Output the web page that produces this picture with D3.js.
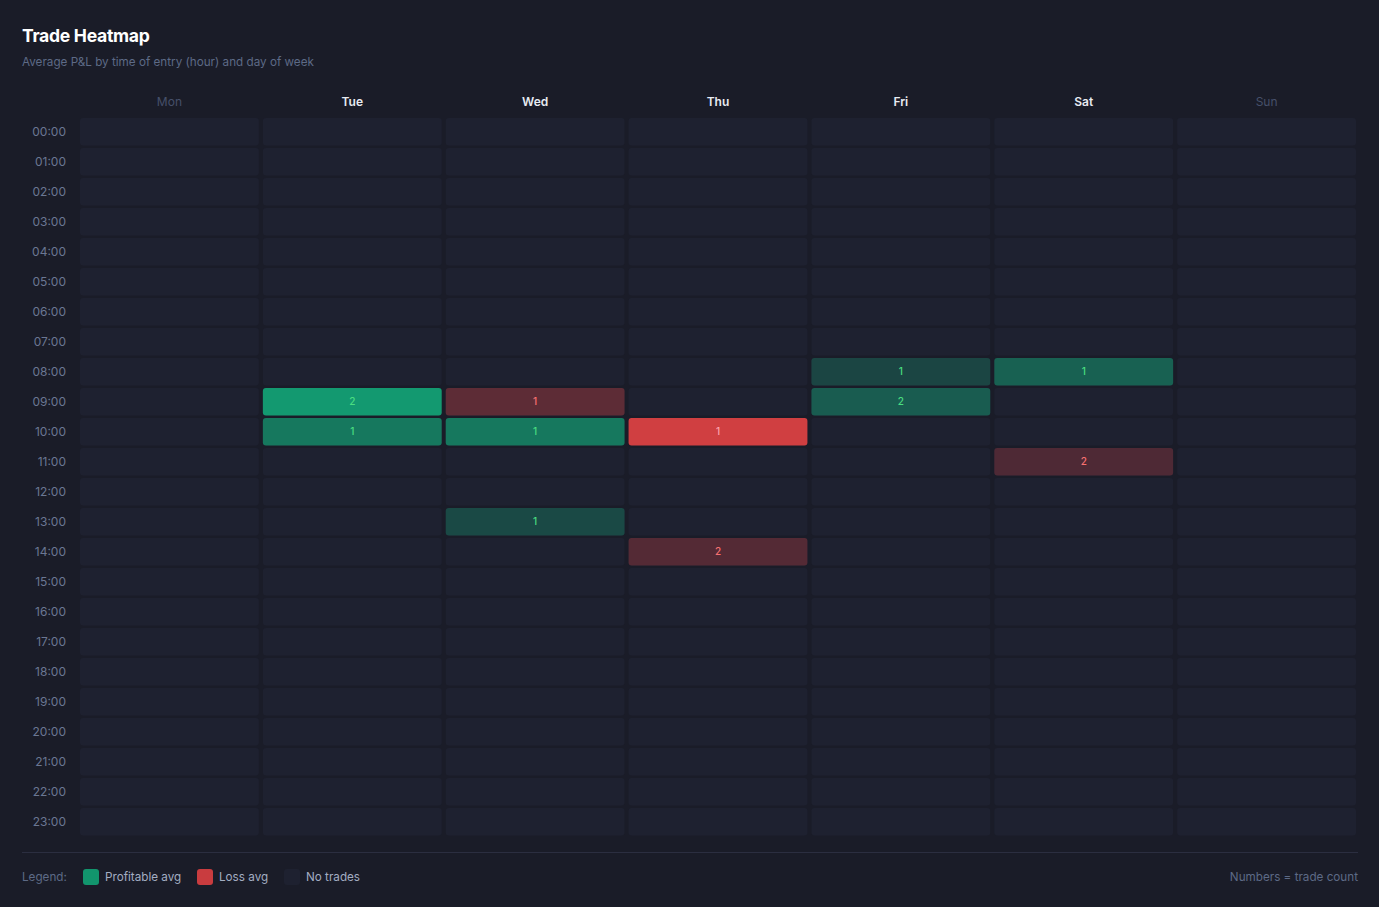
<!DOCTYPE html>
<html>
<head>
<meta charset="utf-8">
<script src="https://cdn.jsdelivr.net/npm/d3@7"></script>
<style>
  body { margin: 0; background: #1a1c28; font-family: Inter, "Noto Sans", sans-serif; }
</style>
</head>
<body>
<div id="container"></div>
<script>
/* CONSTANTS AND GLOBALS */
const width = 1379,
  height = 907,
  margin = {top: 118, bottom: 71.5, left: 80, right: 23};

/* DATA */
const days = ["Mon", "Tue", "Wed", "Thu", "Fri", "Sat", "Sun"];
const hours = d3.range(24).map(h => String(h).padStart(2, "0") + ":00");

// cells with trades: day, hour, trade count, average P&L
const tradeDays   = ["Fri",   "Sat",   "Tue",   "Wed",   "Fri",   "Tue",   "Wed",   "Thu",   "Sat",   "Wed",   "Thu"];
const tradeHours  = ["08:00", "08:00", "09:00", "09:00", "09:00", "10:00", "10:00", "10:00", "11:00", "13:00", "14:00"];
const tradeCounts = [1,       1,       2,       1,       2,       1,       1,       1,       2,       1,       2];
const tradePnl    = [45,      135,     320,     -75,     120,     210,     210,     -350,    -40,     55,      -55];

const legendItems = ["Profitable avg", "Loss avg", "No trades"];

const trades = tradeDays.map((d, i) => ({
  day: d, hour: tradeHours[i], count: tradeCounts[i], pnl: tradePnl[i]
}));

const activeDays = new Set(tradeDays);

/* SVG */
const svg = d3.select("#container")
  .append("svg")
  .attr("width", width)
  .attr("height", height);

// title
svg.append("text")
  .attr("x", 22).attr("y", 42)
  .attr("fill", "#ffffff")
  .attr("font-size", 17.6).attr("font-weight", 700)
  .attr("letter-spacing", -0.3)
  .text("Trade Heatmap");

svg.append("text")
  .attr("x", 22).attr("y", 66)
  .attr("fill", "#5d6a86")
  .attr("font-size", 11.7)
  .text("Average P&L by time of entry (hour) and day of week");

// SCALES
const xScale = d3.scaleBand()
  .domain(days)
  .range([margin.left, width - margin.right])
  .paddingInner(0.022);

const yScale = d3.scaleBand()
  .domain(hours)
  .range([margin.top, height - margin.bottom])
  .paddingInner(0.085);

const maxAbs = d3.max(trades, d => Math.abs(d.pnl));
const alpha = d3.scaleLinear().domain([0, maxAbs]).range([0.15, 0.85]);

const emptyColor = "#1e2130";
const green = "#10b981", red = "#ef4444";
const cellColor = d => d3.interpolateRgb(emptyColor, d.pnl >= 0 ? green : red)(alpha(Math.abs(d.pnl)));

// day headers
svg.append("g")
  .selectAll("text")
  .data(days)
  .join("text")
  .attr("x", d => xScale(d) + xScale.bandwidth() / 2)
  .attr("y", 106)
  .attr("text-anchor", "middle")
  .attr("font-size", 12)
  .attr("font-weight", d => activeDays.has(d) ? 600 : 400)
  .attr("fill", d => activeDays.has(d) ? "#e8ebf2" : "#46506a")
  .text(d => d);

// hour labels
svg.append("g")
  .selectAll("text")
  .data(hours)
  .join("text")
  .attr("x", 66)
  .attr("y", d => yScale(d) + yScale.bandwidth() / 2)
  .attr("dy", "0.35em")
  .attr("text-anchor", "end")
  .attr("font-size", 12)
  .attr("fill", "#6b7793")
  .text(d => d);

// empty grid
const grid = days.flatMap(d => hours.map(h => ({day: d, hour: h})));
svg.append("g")
  .selectAll("rect")
  .data(grid)
  .join("rect")
  .attr("x", d => xScale(d.day))
  .attr("y", d => yScale(d.hour))
  .attr("width", xScale.bandwidth())
  .attr("height", yScale.bandwidth())
  .attr("rx", 3)
  .attr("fill", emptyColor);

// trade cells
const cells = svg.append("g")
  .selectAll("g")
  .data(trades)
  .join("g");

cells.append("rect")
  .attr("x", d => xScale(d.day))
  .attr("y", d => yScale(d.hour))
  .attr("width", xScale.bandwidth())
  .attr("height", yScale.bandwidth())
  .attr("rx", 3)
  .attr("fill", cellColor);

cells.append("text")
  .attr("x", d => xScale(d.day) + xScale.bandwidth() / 2)
  .attr("y", d => yScale(d.hour) + yScale.bandwidth() / 2)
  .attr("dy", "0.35em")
  .attr("text-anchor", "middle")
  .attr("font-size", 10)
  .attr("font-weight", 500)
  .attr("fill", d => d.pnl >= 0 ? "#4ade80" : (alpha(Math.abs(d.pnl)) > 0.6 ? "#fda4af" : "#f87171"))
  .text(d => d.count);

// separator
svg.append("line")
  .attr("x1", 22).attr("x2", 1358)
  .attr("y1", 852.5).attr("y2", 852.5)
  .attr("stroke", "#2b2e40");

// legend
svg.append("text")
  .attr("x", 22).attr("y", 881)
  .attr("font-size", 11.7)
  .attr("fill", "#5d6a86")
  .text("Legend:");

const legendX = [83, 197, 284];
const legendColors = ["#12956d", "#c93c3f", emptyColor];
const lg = svg.append("g")
  .selectAll("g")
  .data(legendItems)
  .join("g")
  .attr("transform", (d, i) => `translate(${legendX[i]},869)`);

lg.append("rect")
  .attr("width", 16).attr("height", 16)
  .attr("rx", 3)
  .attr("fill", (d, i) => legendColors[i]);

lg.append("text")
  .attr("x", 22).attr("y", 12)
  .attr("font-size", 11.7)
  .attr("fill", "#a3adc2")
  .text(d => d);

svg.append("text")
  .attr("x", 1358).attr("y", 881)
  .attr("text-anchor", "end")
  .attr("font-size", 11.7)
  .attr("fill", "#5d6a86")
  .text("Numbers = trade count");
</script>
</body>
</html>
